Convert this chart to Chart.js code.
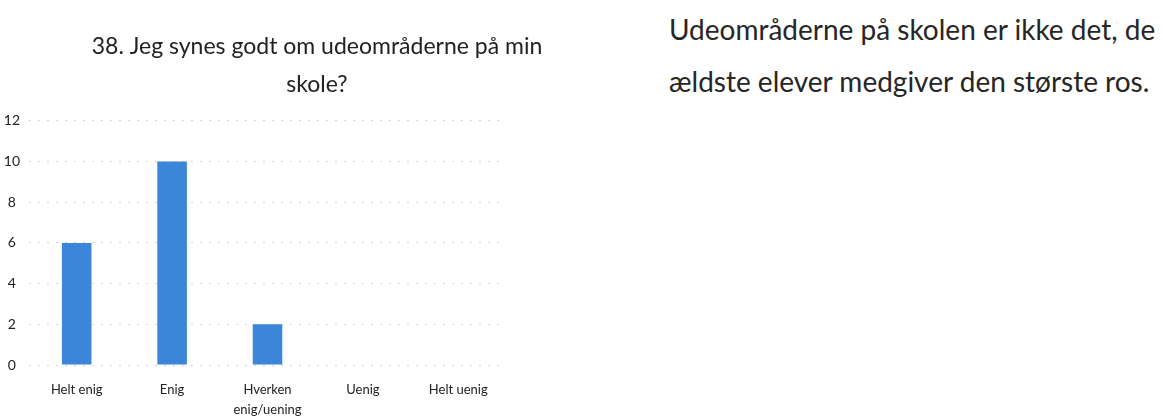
<!DOCTYPE html>
<html>
<head>
<meta charset="utf-8">
<script src="https://cdn.jsdelivr.net/npm/chart.js@4/dist/chart.umd.min.js"></script>
<style>
  html, body { margin:0; padding:0; background:#fff; width:1163px; height:416px; overflow:hidden; }
  #wrap { position:absolute; left:0; top:0; width:634px; height:416px; }
  #note { position:absolute; left:669px; top:3px; font-family: Lato, sans-serif; font-size:28px; color:#262626; line-height:52px; white-space:nowrap; }
</style>
</head>
<body>
<div id="wrap"><canvas id="c" width="634" height="416"></canvas></div>
<div id="note">Udeområderne på skolen er ikke det, de<br>ældste elever medgiver den største ros.</div>
<script>
const titleLines = ['38. Jeg synes godt om udeområderne på min', 'skole?'];
const categories = ['Helt enig', 'Enig', ['Hverken', 'enig/uening'], 'Uenig', 'Helt uenig'];
const counts = [6, 10, 2, 0, 0];
const yMin = 0, yMax = 12, yStep = 2;

new Chart(document.getElementById('c'), {
  type: 'bar',
  data: {
    labels: categories,
    datasets: [{
      data: counts,
      backgroundColor: '#3b86d8',
      borderWidth: 0,
      barPercentage: 0.31,
      categoryPercentage: 1.0
    }]
  },
  options: {
    responsive: false,
    animation: false,
    layout: { padding: { top: 0, left: 0, right: 0, bottom: 0 } },
    plugins: {
      legend: { display: false },
      tooltip: { enabled: false },
      title: {
        display: true,
        text: titleLines,
        color: '#222',
        font: { family: 'Lato, sans-serif', size: 23, weight: 'normal', lineHeight: 1.65 },
        padding: { top: 28, bottom: 17 }
      }
    },
    scales: {
      x: {
        grid: { display: false },
        border: { display: false },
        ticks: { color: '#222', font: { family: 'Lato, sans-serif', size: 13, lineHeight: 1.6 }, padding: 6, maxRotation: 0, autoSkip: false },
        afterFit: s => { s.height = 51; }
      },
      y: {
        min: yMin, max: yMax,
        ticks: { stepSize: yStep, color: '#222', font: { family: 'Lato, sans-serif', size: 14 }, crossAlign: 'center', padding: 9 },
        grid: { color: '#d4d4d4', lineWidth: 1, drawTicks: false },
        border: { display: false, dash: [2, 7] },
        afterFit: s => { s.width = 29; }
      },
      yr: {
        position: 'right',
        display: true,
        grid: { display: false },
        border: { display: false },
        ticks: { display: false },
        afterFit: s => { s.width = 128; }
      }
    }
  }
});
</script>
</body>
</html>
